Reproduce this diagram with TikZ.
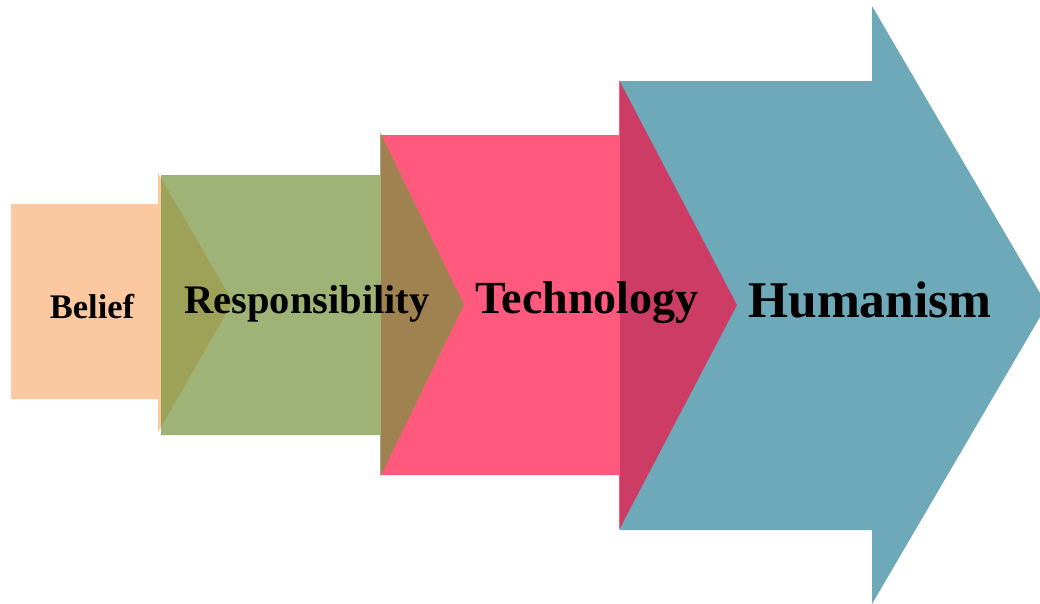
\documentclass[tikz,border=0pt]{standalone}
\usepackage{fontspec}
\setmainfont{Liberation Serif}
\definecolor{peachbase}{RGB}{247,150,70}
\definecolor{olivebase}{RGB}{119,147,60}
\definecolor{pinkbase}{RGB}{255,2,55}
\definecolor{tealbase}{RGB}{49,132,155}
\tikzset{
  % Specifications for style of arrows:
  base/.style = {
    draw=none,
    fill opacity=0.7
  },
  beliefarrow/.style = {
    base,
    fill=peachbase,
    fill opacity=0.52
  },
  responsibilityarrow/.style = {
    base,
    fill=olivebase
  },
  technologyarrow/.style = {
    base,
    fill=pinkbase,
    fill opacity=0.65
  },
  humanismarrow/.style = {
    base,
    fill=tealbase
  },
  % Specifications for style of words:
  word/.style = {
    anchor=base,
    inner sep=0pt,
    text=black
  },
}
\begin{document}
\begin{tikzpicture}[x=1pt, y=-1pt]
    \useasboundingbox (0,0) rectangle (1040,603);
    % Specification of arrows (back to front)
    \fill[beliefarrow] (11,204) -- (158,204) -- (158,173) -- (233,302)
        -- (158,432) -- (158,399) -- (11,399) -- cycle;
    \fill[humanismarrow] (620,81) -- (872,81) -- (872,6) -- (1047,305)
        -- (872,604) -- (872,530) -- (620,530) -- cycle;
    \fill[technologyarrow] (381,135) -- (619,135) -- (619,80) -- (737,305)
        -- (619,530) -- (619,475) -- (381,475) -- cycle;
    \fill[responsibilityarrow] (161,175) -- (380,175) -- (380,132) -- (464,305)
        -- (380,477) -- (380,435) -- (161,435) -- cycle;
    % Specification of words (position, etc.)
    \node[word, font={\bfseries\fontsize{34.5}{40}\selectfont}] (belief) at (92,318) {Belief};
    \node[word, font={\bfseries\fontsize{40.5}{46}\selectfont}] (responsibility) at (307,313) {Responsibility};
    \node[word, font={\bfseries\fontsize{46}{52}\selectfont}] (technology) at (587,313) {Technology};
    \node[word, font={\bfseries\fontsize{51.5}{58}\selectfont}] (humanism) at (870,317) {Humanism};
\end{tikzpicture}
\end{document}
